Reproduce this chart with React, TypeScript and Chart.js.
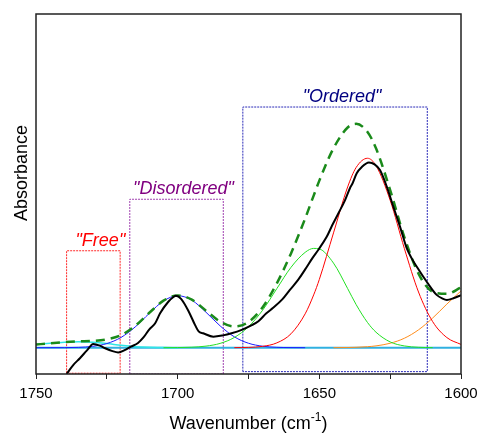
import { useEffect, useRef } from 'react';
import { Chart, registerables } from 'chart.js';

Chart.register(...registerables);

// Wavenumber grid (cm-1) for the fitted band components
const fitWn = [1750, 1745, 1740, 1735, 1730, 1725, 1720, 1715, 1710, 1705, 1700, 1695, 1690, 1685, 1680, 1675, 1670, 1665, 1660, 1655, 1652, 1650, 1645, 1640, 1637, 1633, 1630, 1625, 1620, 1615, 1610, 1605, 1600];

// Fitted component bands (null = not drawn)
const bandFree = [0.012, 0.017, 0.021, 0.023, 0.021, 0.016, 0.009, 0.004, 0.0015, 0.0005, 0, null, null, null, null, null, null, null, null, null, null, null, null, null, null, null, null, null, null, null, null, null, null];
const bandDisordered = [0, 0.0001, 0.0003, 0.0014, 0.0052, 0.0158, 0.039, 0.079, 0.131, 0.178, 0.198, 0.181, 0.135, 0.083, 0.0415, 0.017, 0.0057, 0.0016, 0.0004, 0.0001, null, null, null, null, null, null, null, null, null, null, null, null, null];
const bandMid = [null, null, null, null, null, null, null, null, null, 0.0001, 0.0006, 0.002, 0.0061, 0.0165, 0.039, 0.08, 0.143, 0.225, 0.306, 0.363, 0.378, 0.376, 0.322, 0.225, 0.164, 0.096, 0.059, 0.022, 0.0068, 0.0017, 0.0003, null, null];
const bandOrdered = [null, null, null, null, null, null, null, null, null, null, null, null, null, null, 0.0003, 0.0013, 0.0053, 0.0184, 0.053, 0.129, 0.201, 0.26, 0.437, 0.612, 0.686, 0.721, 0.693, 0.561, 0.378, 0.212, 0.0993, 0.0387, 0.0126];
const bandSide = [null, null, null, null, null, null, null, null, null, null, null, null, null, null, null, null, null, null, null, null, null, null, 0.0002, 0.0008, 0.0017, 0.0039, 0.007, 0.017, 0.036, 0.068, 0.113, 0.166, 0.216];
// Cumulative fit (sum of the bands)
const fitSum = [0.012, 0.017, 0.021, 0.024, 0.026, 0.032, 0.048, 0.083, 0.133, 0.179, 0.199, 0.183, 0.141, 0.0995, 0.081, 0.098, 0.154, 0.245, 0.359, 0.492, 0.579, 0.636, 0.759, 0.838, 0.852, 0.821, 0.759, 0.6, 0.421, 0.282, 0.213, 0.205, 0.229];

// Measured spectrum
const specWn = [1739.2, 1736.8, 1734.5, 1732, 1729.8, 1727.5, 1725.6, 1723, 1721, 1718.5, 1716.5, 1714, 1712, 1710, 1708, 1706.2, 1703.3, 1701.5, 1700.6, 1698.8, 1696.2, 1693.8, 1692.6, 1691, 1687.4, 1684, 1681, 1677.4, 1674, 1671.5, 1668.8, 1666.3, 1663, 1660.4, 1657.5, 1655, 1652.5, 1650.4, 1647.4, 1645.5, 1643.3, 1641, 1639.2, 1638.3, 1636.8, 1635, 1632.5, 1630.5, 1628.6, 1626.2, 1623.9, 1621.5, 1619.2, 1617.4, 1615.6, 1612.1, 1608.6, 1606.5, 1605, 1602.7, 1600];
const specAbs = [-0.1, -0.065, -0.04, -0.01, 0.014, 0.008, -0.002, -0.013, -0.018, -0.008, 0.004, 0.018, 0.04, 0.07, 0.092, 0.131, 0.175, 0.193, 0.198, 0.186, 0.14, 0.085, 0.062, 0.055, 0.042, 0.047, 0.055, 0.068, 0.085, 0.101, 0.13, 0.152, 0.185, 0.22, 0.258, 0.298, 0.34, 0.372, 0.422, 0.465, 0.511, 0.56, 0.607, 0.625, 0.664, 0.688, 0.705, 0.698, 0.676, 0.613, 0.537, 0.46, 0.38, 0.34, 0.308, 0.251, 0.201, 0.187, 0.182, 0.188, 0.2];

// Highlighted regions
const regionNames = ['"Free"', '"Disordered"', '"Ordered"'];
const regionHigh = [1739.2, 1716.9, 1677.0];
const regionLow = [1720.3, 1683.9, 1611.9];
const regionTop = [0.369, 0.565, 0.916];
const regionBottom = [-0.097, -0.1, -0.091];
const regionLine = ['#ff2a2a', '#a040b0', '#2a2ab8'];
const regionText = ['#ff0000', '#800080', '#000080'];

const xTicks = [1750, 1700, 1650, 1600];

const FONT = '"Liberation Sans", Arial, sans-serif';

const pts = (xs: number[], ys: (number | null)[]) => xs.map((x, i) => ({ x, y: ys[i] }));

const curve = (label: string, data: any[], color: string, width: number, extra: any = {}) => ({
  label,
  data,
  borderColor: color,
  borderWidth: width,
  pointRadius: 0,
  fill: false,
  cubicInterpolationMode: 'monotone',
  spanGaps: false,
  ...extra,
});

const decorPlugin = {
  id: 'decor',
  afterDatasetsDraw(chart: any) {
    const { ctx, chartArea, scales } = chart;
    const x = scales.x;
    const y = scales.y;
    ctx.save();
    // region captions
    ctx.font = `italic 18px ${FONT}`;
    ctx.textAlign = 'center';
    ctx.textBaseline = 'alphabetic';
    regionNames.forEach((name, i) => {
      const cx = (x.getPixelForValue(regionHigh[i]) + x.getPixelForValue(regionLow[i])) / 2 + 7;
      const ty = y.getPixelForValue(regionTop[i]) - 5;
      ctx.fillStyle = regionText[i];
      ctx.fillText(name, cx, ty);
    });
    // frame
    ctx.strokeStyle = '#222';
    ctx.lineWidth = 1.5;
    ctx.strokeRect(chartArea.left, chartArea.top, chartArea.right - chartArea.left, chartArea.bottom - chartArea.top);
    // axis titles
    ctx.fillStyle = '#000';
    ctx.textAlign = 'left';
    const main = 'Wavenumber (cm';
    const sup = '-1';
    const close = ')';
    ctx.font = `18px ${FONT}`;
    const wMain = ctx.measureText(main).width;
    const wClose = ctx.measureText(close).width;
    ctx.font = `12px ${FONT}`;
    const wSup = ctx.measureText(sup).width;
    const total = wMain + wSup + wClose;
    const cx = (chartArea.left + chartArea.right) / 2;
    let px = cx - total / 2;
    const base = 429;
    ctx.font = `18px ${FONT}`;
    ctx.fillText(main, px, base);
    px += wMain;
    ctx.font = `12px ${FONT}`;
    ctx.fillText(sup, px, base - 8);
    px += wSup;
    ctx.font = `18px ${FONT}`;
    ctx.fillText(close, px, base);

    ctx.translate(27, 173);
    ctx.rotate(-Math.PI / 2);
    ctx.textAlign = 'center';
    ctx.fillText('Absorbance', 0, 0);
    ctx.restore();
  },
};

export default function App() {
  const ref = useRef<HTMLCanvasElement>(null);

  useEffect(() => {
    const boxes = regionNames.map((name, i) => ({
      label: name,
      data: [
        { x: regionHigh[i], y: regionBottom[i] },
        { x: regionHigh[i], y: regionTop[i] },
        { x: regionLow[i], y: regionTop[i] },
        { x: regionLow[i], y: regionBottom[i] },
        { x: regionHigh[i], y: regionBottom[i] },
      ],
      borderColor: regionLine[i],
      borderWidth: 1,
      borderDash: [2, 1],
      pointRadius: 0,
      fill: false,
      tension: 0,
    }));

    const chart = new Chart(ref.current as HTMLCanvasElement, {
      type: 'line',
      data: {
        datasets: [
          curve('Spectrum', pts(specWn, specAbs), '#000000', 2),
          curve('Fit', pts(fitWn, fitSum), '#1a8a1a', 2.5, { borderDash: [9, 6] }),
          curve('Ordered band', pts(fitWn, bandOrdered), '#ff0000', 1),
          curve('Band 1651', pts(fitWn, bandMid), '#22e022', 1),
          curve('Disordered band', pts(fitWn, bandDisordered), '#1a1aff', 1),
          curve('Side band', pts(fitWn, bandSide), '#ff8c1a', 1),
          curve('Free band', pts(fitWn, bandFree), '#2ee6e6', 1.5),
          curve('Baseline', [{ x: 1750, y: 0 }, { x: 1600, y: 0 }], '#30b0e0', 2, { cubicInterpolationMode: 'default', tension: 0 }),
          ...boxes,
        ] as any,
      },
      options: {
        responsive: false,
        animation: false,
        devicePixelRatio: 1,
        events: [],
        layout: { padding: { top: 14, right: 17, left: 0, bottom: 0 } },
        plugins: { legend: { display: false }, tooltip: { enabled: false }, title: { display: false } },
        scales: {
          x: {
            type: 'linear',
            reverse: true,
            min: 1600,
            max: 1750,
            afterFit: (s: any) => {
              s.height = 59;
              s.paddingLeft = 0;
              s.paddingRight = 0;
            },
            border: { display: false },
            grid: { display: true, drawOnChartArea: false, drawTicks: true, tickLength: 5, color: '#222', lineWidth: 1 },
            ticks: {
              stepSize: 25,
              autoSkip: false,
              maxRotation: 0,
              padding: 6,
              color: '#000',
              font: { family: FONT, size: 15 },
              callback: (v: any) => (xTicks.includes(Number(v)) ? String(v) : ''),
            },
          },
          y: {
            type: 'linear',
            min: -0.1,
            max: 1.27,
            afterFit: (s: any) => {
              s.width = 36;
              s.paddingTop = 0;
              s.paddingBottom = 0;
            },
            border: { display: false },
            grid: { display: false },
            ticks: { display: false },
          },
        },
      },
      plugins: [decorPlugin],
    });
    return () => chart.destroy();
  }, []);

  return (
    <div style={{ position: 'fixed', left: 0, top: 0, width: 478, height: 433, background: '#fff' }}>
      <canvas ref={ref} width={478} height={433} style={{ display: 'block', width: 478, height: 433 }} />
    </div>
  );
}
